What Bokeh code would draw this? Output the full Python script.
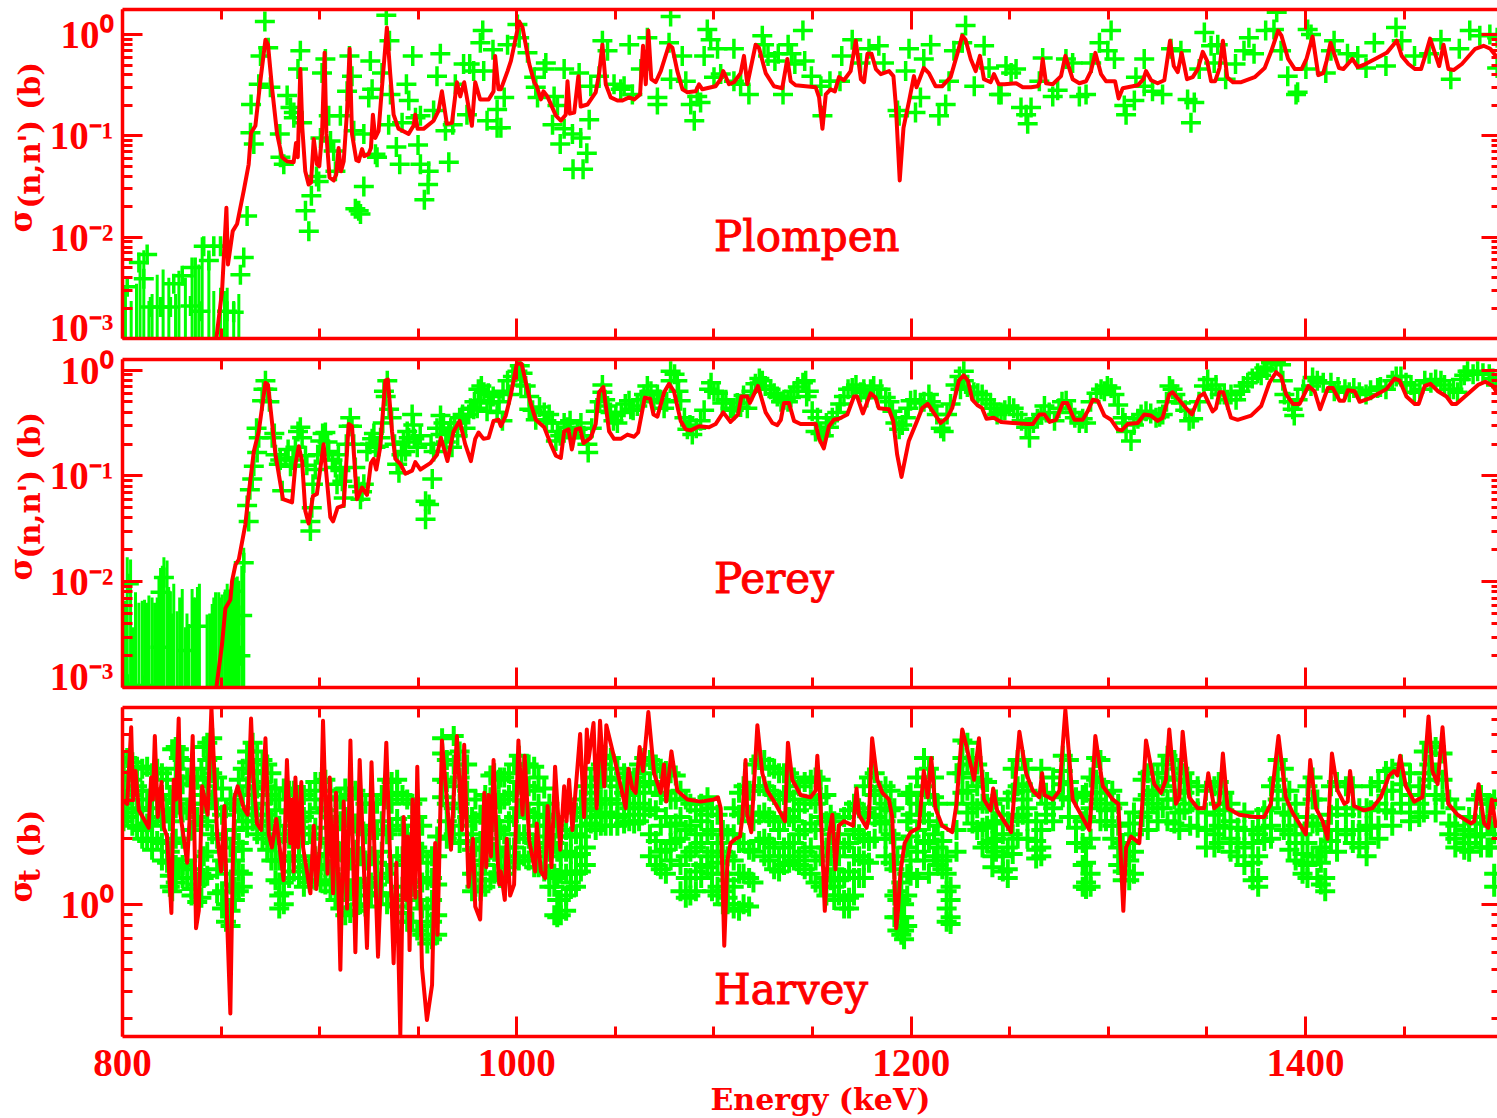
import math
from bokeh.embed import file_html
from bokeh.resources import INLINE
from bokeh.layouts import column, row
from bokeh.models import CustomLabelingPolicy, FixedTicker, Label, LogAxis, LinearAxis, LogScale, Range1d
from bokeh.plotting import figure

RED = "#ff0000"
GREEN = "#00ff00"
SERIF = "DejaVu Serif"
TICK_FONT = "Liberation Serif"

x_major = [800, 1000, 1200, 1400]
x_minor = [850, 900, 950, 1050, 1100, 1150, 1250, 1300, 1350, 1450]
panel_names = ["Plompen", "Perey", "Harvey"]

# All series are (energy keV, log10 of cross section in barn)
plompen_model = [(847.6,-3.0),(850.5,-2.53),(852.7,-1.71),(853.5,-2.27),(855.9,-1.94),(858.1,-1.87),(861.5,-1.54),(864,-1.28),(865.2,-.97),(867.4,-.90),(869.9,-.46),(872.5,-.05),(873.8,-.10),(875.8,-.52),(878.4,-.98),(880.9,-1.21),(883.4,-1.25),(886.8,-1.26),(888,-1.07),(888.9,-1.21),(890.2,-.34),(891.2,-.92),(892.7,-1.35),(894.4,-1.48),(895.6,-1.46),(897,-1.03),(898.6,-1.28),(899.8,-1.30),(901.2,-.98),(902.5,-.18),(903.4,-.98),(905,-1.41),(907.1,-1.44),(908.4,-1.38),(909.6,-1.12),(910.8,-1.35),(912.2,-1.25),(913.9,-.75),(915.2,-.14),(916.4,-.98),(918.6,-1.24),(919.8,-1.25),(921.5,-1.13),(922.6,-1.20),(924.8,-1.18),(926,-1.12),(927,-.79),(928.2,-1.02),(929.9,-.95),(931.6,-.52),(934.1,.07),(935.8,-.39),(937.5,-.79),(940,-.93),(945.1,-.98),(947.6,-.90),(948.5,-.79),(949.7,-.93),(952.7,-.93),(957.8,-.85),(960.3,-.75),(962,-.56),(964.5,-.88),(967.1,-.87),(969.6,-.47),(971.3,-.61),(973.3,-.47),(977.2,-.90),(978.9,-.47),(981.4,-.64),(985.7,-.64),(988.2,-.56),(989,-.21),(990.7,-.54),(991.9,-.54),(995.3,-.36),(997,-.26),(1001.2,.13),(1002.9,.07),(1006.3,-.29),(1008.8,-.47),(1010.1,-.51),(1012.2,-.64),(1013.5,-.56),(1015.5,-.61),(1019.8,-.80),(1022.3,-.85),(1024.8,-.79),(1025.7,-.46),(1026.9,-.78),(1029.1,-.77),(1031.2,-.41),(1032.4,-.71),(1035.8,-.69),(1040,-.57),(1041.7,-.39),(1043.4,-.10),(1045.1,-.49),(1047.6,-.62),(1051,-.65),(1053.6,-.65),(1056.9,-.62),(1059.5,-.64),(1062.5,-.59),(1064,-.11),(1065.4,-.49),(1066.7,.04),(1068.2,-.44),(1070.4,-.47),(1073,-.36),(1077.2,-.10),(1078.9,-.13),(1081.4,-.36),(1084,-.54),(1086.5,-.57),(1090.7,-.56),(1092.4,-.49),(1094.1,-.54),(1100.8,-.51),(1103.4,-.44),(1104.7,-.36),(1107.6,-.49),(1110.1,-.47),(1113.5,-.38),(1115.2,-.21),(1116.9,-.49),(1121.1,-.10),(1122.8,-.13),(1126.2,-.38),(1130.4,-.51),(1134.6,-.53),(1137.2,-.24),(1138.9,-.46),(1141.4,-.50),(1151.6,-.52),(1153.3,-.62),(1155,-.93),(1156.7,-.59),(1159.1,-.54),(1161.3,-.56),(1163.4,-.42),(1165.9,-.45),(1169.3,-.36),(1171.9,-.06),(1174.5,-.44),(1176.1,-.47),(1177.8,-.19),(1179.9,-.19),(1182.1,-.34),(1184.6,-.39),(1188.8,-.36),(1191,-.41),(1192.2,-.69),(1194.2,-1.44),(1196.1,-.92),(1199,-.65),(1201.4,-.41),(1202.7,-.52),(1206.4,-.33),(1209,-.38),(1212.4,-.51),(1215.7,-.51),(1220,-.42),(1223.4,-.19),(1225.9,-.01),(1227.6,-.05),(1230.2,-.24),(1232.7,-.36),(1234.9,-.21),(1236.9,-.44),(1240.3,-.47),(1242,-.39),(1244.4,-.49),(1247.3,-.49),(1253.2,-.48),(1256.6,-.52),(1260.8,-.52),(1264.2,-.51),(1265.5,-.46),(1266.7,-.24),(1268.4,-.48),(1271.8,-.49),(1276,-.41),(1278.2,-.21),(1281.9,-.44),(1285.3,-.48),(1288.7,-.46),(1291.2,-.36),(1293.4,-.18),(1296.3,-.39),(1298.8,-.46),(1303.4,-.46),(1305.2,-.63),(1307.3,-.53),(1314.9,-.50),(1317.8,-.44),(1319.1,-.36),(1321.7,-.45),(1325,-.48),(1328.4,-.45),(1331.3,-.06),(1333.2,-.31),(1335.2,-.37),(1337.2,-.18),(1339.9,-.44),(1342.8,-.42),(1345.4,-.34),(1347.9,-.17),(1350.1,-.26),(1352.1,-.46),(1354.2,-.46),(1356.4,-.33),(1358.1,-.06),(1360.3,-.42),(1363.2,-.47),(1367.4,-.47),(1374.2,-.42),(1379.3,-.33),(1382.7,-.16),(1386.1,.04),(1387.8,-.01),(1391.2,-.24),(1394.6,-.34),(1398,-.34),(1400.5,-.24),(1403.6,-.02),(1406.5,-.40),(1409,-.38),(1410.7,-.26),(1412.7,-.08),(1414.9,-.21),(1417,-.33),(1419.2,-.34),(1423.8,-.24),(1426.5,-.32),(1429.4,-.30),(1435.3,-.24),(1441.2,-.18),(1446.3,-.06),(1448.8,-.21),(1452.2,-.29),(1455.6,-.34),(1458.6,-.34),(1460.7,-.21),(1463.2,-.04),(1467.8,-.31),(1470,-.10),(1472.5,-.34),(1475.1,-.35),(1479.3,-.29),(1486.1,-.14),(1490.3,-.11),(1493.7,-.14),(1497.4,-.23)]

perey_model = [(847.6,-3),(850.5,-2.59),(852.2,-2.25),(854.7,-2.17),(855.6,-1.99),(857.3,-1.84),(859,-1.79),(862.3,-1.46),(864,-1.17),(866.6,-.77),(869.1,-.58),(872.5,-.12),(873.8,-.14),(877.6,-.80),(881.4,-1.22),(886,-1.25),(887.7,-.89),(889.4,-.72),(891.1,-.86),(892.7,-1.33),(894.4,-1.45),(896.6,-1.19),(898.6,-1.17),(902,-.70),(905.4,-1.39),(906.8,-1.43),(909.1,-1.30),(912.2,-1.28),(914.7,-.51),(916.4,-.53),(918.9,-1.22),(921.5,-1.11),(924,-1.18),(926,-.88),(927.4,-.84),(928.7,-.94),(930.7,-.73),(933.3,-.10),(934.6,-.09),(936.7,-.58),(938.4,-.84),(941,-.89),(943.5,-.98),(946.9,-.95),(948.5,-.87),(951.1,-.94),(956.1,-.88),(959.5,-.80),(961.5,-.64),(964.8,-.86),(967.9,-.58),(971,-.48),(973.8,-.70),(976.7,-.86),(978.9,-.65),(980.6,-.59),(983.1,-.65),(985.7,-.64),(988.2,-.48),(990.7,-.47),(991.9,-.53),(994.4,-.43),(997,-.23),(1000,.06),(1002.4,.06),(1007.1,-.32),(1009.6,-.47),(1013.9,-.54),(1017.2,-.70),(1019.8,-.81),(1022.3,-.83),(1024,-.58),(1026.2,-.56),(1027.9,-.75),(1029.9,-.56),(1032.1,-.55),(1033.8,-.69),(1037.5,-.64),(1040,-.51),(1041.7,-.21),(1043.9,-.16),(1046.8,-.58),(1049.3,-.65),(1052.7,-.65),(1056.1,-.61),(1059.5,-.63),(1061.5,-.59),(1064.9,-.26),(1067.6,-.27),(1069.3,-.42),(1071.3,-.44),(1074.7,-.21),(1077.2,-.13),(1079.7,-.20),(1083.1,-.48),(1085.6,-.56),(1088.2,-.57),(1092.4,-.53),(1097.5,-.54),(1100.8,-.51),(1104.7,-.40),(1108.4,-.49),(1112.2,-.42),(1113.9,-.25),(1116.9,-.25),(1118.2,-.31),(1122.3,-.15),(1126.2,-.40),(1129.6,-.50),(1132.1,-.52),(1133.9,-.47),(1135.5,-.31),(1138,-.31),(1140.6,-.48),(1143.9,-.51),(1151.6,-.51),(1153.3,-.65),(1155.7,-.74),(1158.3,-.53),(1160.8,-.47),(1163.4,-.46),(1167.6,-.42),(1171,-.25),(1172.6,-.25),(1175.5,-.41),(1179.4,-.22),(1181.9,-.26),(1183.6,-.36),(1188.7,-.37),(1190.9,-.48),(1192.9,-.80),(1195.1,-1.01),(1198.8,-.67),(1203,-.48),(1205.6,-.36),(1208.4,-.32),(1214.9,-.50),(1218.2,-.45),(1220.8,-.36),(1224.2,-.10),(1226.7,-.05),(1228.8,-.10),(1231,-.28),(1233.5,-.33),(1236,-.36),(1238.2,-.46),(1241.9,-.45),(1245.6,-.49),(1251.5,-.50),(1259.1,-.51),(1261.7,-.51),(1265,-.42),(1267.6,-.42),(1270.2,-.49),(1273.5,-.47),(1276.9,-.31),(1279.1,-.31),(1282.8,-.47),(1287,-.47),(1289.5,-.39),(1292.1,-.28),(1294.6,-.29),(1298,-.43),(1301.4,-.47),(1304.7,-.56),(1306.8,-.57),(1309.8,-.51),(1314.9,-.50),(1318.2,-.42),(1321.6,-.43),(1325,-.48),(1327.5,-.45),(1330.9,-.23),(1332.6,-.21),(1338.5,-.34),(1342.4,-.42),(1346.1,-.25),(1348.6,-.22),(1352.9,-.39),(1354.6,-.36),(1356.3,-.21),(1358.3,-.21),(1362.2,-.45),(1365.6,-.47),(1372.4,-.43),(1377.5,-.34),(1381.7,-.12),(1385.1,-.02),(1387.6,-.06),(1390.2,-.23),(1393.6,-.32),(1397,-.32),(1401.5,-.15),(1404.6,-.20),(1407.4,-.37),(1411.3,-.17),(1413.9,-.17),(1417.3,-.29),(1419.5,-.29),(1421.5,-.19),(1424.9,-.20),(1427.5,-.30),(1433.4,-.26),(1441,-.18),(1445.2,-.08),(1447.8,-.10),(1451.2,-.25),(1455.4,-.32),(1457.4,-.32),(1460.5,-.15),(1463.4,-.13),(1467.2,-.20),(1471.5,-.25),(1474.3,-.32),(1476.5,-.32),(1487.5,-.14),(1491.2,-.11),(1495.1,-.15),(1497.2,-.22)]

harvey_model = [(800,.476),(802.4,.46),(804.4,.81),(805.4,.476),(806.6,.61),(808.3,.43),(813.3,.35),(814.5,.58),(815.4,.48),(816.4,.77),(817.9,.40),(819.8,.56),(821,.35),(822.6,.31),(824.8,-.04),(826,.57),(827.2,.48),(828.5,.85),(829.4,.41),(832.8,.19),(834.1,.40),(835.6,.77),(837.3,-.11),(838.7,-.03),(840.4,.54),(843.2,.41),(845.1,.90),(848,.32),(850,.15),(851.7,.45),(853,-.06),(854.7,-.50),(855.9,.17),(856.8,.49),(858.4,.54),(861.5,.44),(863.5,.41),(865.2,.85),(866.4,.58),(868.2,.37),(870.3,.34),(872.5,.76),(874.2,.32),(875.8,.26),(878,.39),(881.7,.11),(883.4,.66),(885.1,.28),(886,.48),(886.8,.15),(887.7,.58),(889,.26),(890.7,.56),(891.6,.26),(895.3,.05),(897,.36),(898.3,.07),(900.3,.29),(901.7,.84),(904,.14),(905.1,.58),(906.8,.05),(908.3,.51),(910.5,-.30),(912.2,.47),(913.9,-.02),(915.6,.75),(918.1,-.22),(920.3,.66),(924,-.20),(926.3,.65),(929.6,-.24),(933.8,.74),(937.5,-.27),(938.9,.19),(940.9,-.60),(942.6,.40),(944,.02),(944.7,.31),(945.6,-.21),(947.1,.48),(948.5,.03),(949.5,.63),(951.9,-.29),(954.4,-.53),(957,-.37),(958.6,.28),(959.8,-.14),(962,.75),(966.6,.25),(969.6,.77),(972.2,.34),(973.3,.73),(975.5,.08),(977.7,.30),(978.9,-.01),(981.4,-.07),(983.5,.51),(984.5,.17),(985.7,.50),(986.9,.22),(988.2,.66),(989.9,.26),(991.1,.09),(991.9,.15),(993.9,.02),(994.9,.30),(996.6,.04),(998.6,.09),(1000.8,.75),(1002.9,.41),(1004,.68),(1006.3,.29),(1009.3,.15),(1010.1,.37),(1012.2,.15),(1014.4,.12),(1015.6,.45),(1017.6,.17),(1019.4,.63),(1022,.25),(1024,.54),(1025.2,.38),(1026.5,.57),(1028.2,.34),(1032.1,.78),(1034.1,.40),(1035.5,.80),(1036.2,.65),(1038.9,.83),(1040.5,.44),(1042.2,.84),(1044.3,.54),(1045.4,.82),(1050.2,.64),(1055.2,.44),(1056.6,.62),(1058.6,.53),(1060.3,.51),(1062.3,.72),(1064,.61),(1066.7,.88),(1069.6,.60),(1072.9,.51),(1074.6,.64),(1075.8,.47),(1078.4,.70),(1081.4,.52),(1086.5,.48),(1093.2,.47),(1100,.48),(1102,.49),(1103.4,.44),(1105.2,-.19),(1106.8,.20),(1108.4,.28),(1111,.30),(1113.2,.31),(1114.4,.40),(1116,.66),(1116.9,.41),(1118.9,.33),(1122,.82),(1124.5,.60),(1127,.52),(1131.2,.46),(1136,.38),(1137.5,.74),(1139.7,.57),(1143.9,.50),(1149,.49),(1151.5,.52),(1152.4,.68),(1154,.46),(1156.2,-.03),(1158.3,.32),(1160,.41),(1161.6,.16),(1163.3,.36),(1165.9,.38),(1170.6,.36),(1172.3,.53),(1173.5,.41),(1177.4,.35),(1178.6,.40),(1180.2,.76),(1182.8,.57),(1185.4,.51),(1188.7,.48),(1190.4,.40),(1192.4,-.11),(1193.3,-.03),(1194.6,.15),(1196.7,.28),(1199.7,.33),(1203.9,.35),(1206.4,.61),(1208.4,.49),(1210.2,.67),(1212.3,.44),(1215.7,.36),(1220.8,.33),(1223,.46),(1225.9,.80),(1227.6,.74),(1231.9,.57),(1234.4,.76),(1236.9,.48),(1240.3,.43),(1241.6,.53),(1243.6,.43),(1250.7,.33),(1252.7,.55),(1254.9,.79),(1258.3,.60),(1261.7,.52),(1265,.49),(1266.4,.60),(1267.6,.50),(1271.8,.48),(1275.2,.52),(1278.2,.89),(1281.9,.48),(1290.4,.34),(1291.8,.52),(1293.4,.77),(1297.2,.54),(1302.2,.48),(1305.1,.46),(1306.4,.20),(1307.6,-.03),(1309,.26),(1311.5,.31),(1315.7,.28),(1317.4,.48),(1319.1,.75),(1323.3,.55),(1326.7,.51),(1329.2,.57),(1330.9,.80),(1334.3,.46),(1336,.49),(1337.7,.79),(1341,.49),(1345.3,.44),(1348.6,.44),(1350.7,.60),(1353.7,.44),(1356.3,.46),(1358.1,.69),(1360.5,.44),(1366.4,.41),(1374,.40),(1379.1,.40),(1382.4,.46),(1386.3,.77),(1390,.49),(1393.4,.42),(1400.2,.32),(1402.4,.66),(1405.3,.44),(1408.7,.38),(1411.2,.30),(1413.4,.69),(1416.3,.52),(1419.7,.46),(1421.4,.47),(1422.6,.61),(1424.6,.45),(1429.7,.43),(1433.9,.44),(1438.2,.49),(1442.4,.59),(1444.9,.61),(1446.6,.59),(1448,.68),(1450.9,.54),(1455.1,.47),(1459.3,.49),(1462.4,.86),(1464.4,.61),(1467,.55),(1469.5,.81),(1472.4,.46),(1477.1,.41),(1483.9,.37),(1485.6,.38),(1487.8,.55),(1490.6,.37),(1492.7,.35),(1494.5,.48),(1496.6,.35)]

plompen_data = [(872.2,.13),(873.9,-.13),(870,-.21),(890.2,-.16),(889,-.34),(901.2,-.38),(902.9,-.24),(915.1,-.21),(916.4,-.41),(913.9,-.56),(925.7,-.26),(931.6,-.38),(926.6,-.54),(924.9,-.62),(933.8,.19),(935.4,-.06),(935.9,-.59),(944,-.49),(947.2,-.21),(945.2,-.65),(948.6,-.82),(961.2,-.19),(959.5,-.41),(982.7,.04),(981.5,-.08),(987.9,-.15),(973,-.29),(976.1,-.29),(978.1,-.36),(983.2,-.36),(968.8,-.49),(957.8,-.75),(951.1,-.80),(941.8,-.87),(935,-.89),(922.4,-.98),(917.3,-.95),(910.5,-.80),(904.6,-.80),(907.1,-1.15),(905.5,-1.05),(900.4,-1.02),(891.1,-.87),(886.9,-.82),(885.2,-.72),(883.5,-.60),(886.9,-.77),(875,-.52),(869.1,-.49),(865.2,-.69),(864.9,-.97),(866.6,-1.08),(879.8,-.98),(880.1,-1.21),(881.8,-1.28),(898.4,-1.40),(899.5,-1.45),(895.8,-1.59),(892.8,-1.74),(894.5,-1.94),(908,-1.35),(922.4,-1.50),(919.8,-1.74),(920.7,-1.77),(918.1,-1.72),(928.3,-1.18),(929.1,-1.21),(938.9,-1.11),(940.6,-1.28),(949.9,-1.09),(951.1,-1.28),(955.3,-1.35),(955,-1.48),(953.1,-1.63),(965.5,-1.26),(963.8,-.95),(967.5,-.89),(974.7,-.79),(984.9,-.85),(990,-.74),(990,-.92),
(802.4,-2.49),(812.5,-2.17),(808.3,-2.25),(810.8,-2.41),(819.3,-2.69),(814.2,-2.69),(826,-2.46),(830.3,-2.38),(835.3,-2.30),(841.2,-2.09),(846.3,-2.09),(843.8,-2.23),(849.7,-2.09),(861.5,-2.20),(859.8,-2.37),(863.2,-1.79),(824.3,-2.69),(834.5,-2.68),(839.5,-2.73),(853,-2.73),(856.4,-2.74),
(1000.3,.10),(995.3,-.10),(1001.2,-.03),(1005.4,-.18),(1014.7,-.28),(1013.9,-.34),(1008.8,-.42),(1009.6,-.52),(1010.5,-.62),(1024,-.34),(1031.6,-.38),(1018.9,-.61),(1020.6,-.70),(1018.1,-.89),(1024,-.93),(1028.2,-.98),(1032.4,-1.02),(1022,-1.08),(1035.5,-1.17),(1028.5,-1.33),(1033.6,-1.33),(1036.7,-.84),(1043.4,-.06),(1046,-.16),(1041.7,-.41),(1037.5,-.51),(1049.3,-.49),(1052.7,-.54),(1057,-.10),(1054.4,-.51),(1058.6,-.59),(1062.9,-.34),(1066.2,-.03),(1078,.18),(1077.2,-.08),(1071.3,-.62),(1071.3,-.69),(1078,-.44),(1083.9,-.21),(1085.7,-.46),(1090,-.85),(1088.2,-.69),(1093.2,-.67),(1091.5,-.61),(1096.6,.05),(1098.3,-.05),(1095,-.21),(1101.8,-.14),(1100,-.42),(1110.1,-.14),(1103.4,-.39),(1110.1,-.46),(1113.5,-.49),(1117.7,-.59),(1124.5,-.01),(1125.4,-.10),(1127.4,-.21),(1132.6,-.19),(1137.6,-.10),(1145.1,.04),(1139.3,-.19),(1141,-.29),(1146,-.26),(1149.4,-.41),(1135,-.59),(1130.9,-.26),(1155,-.80),(1154.2,-.51),(1158.8,-.46),(1163.9,-.46),(1164.8,-.21),(1170.1,-.05),(1178.6,-.14),(1183.6,-.11),(1186.2,-.28),(1174.3,-.28),(1193.9,-.80),(1198.9,-.14),(1197.2,-.36),(1209.9,-.10),(1206.4,-.24),(1204.7,-.62),(1202.2,-.77),(1193.1,-.75),(1217.5,-.69),(1214.1,-.80),(1219.2,-.46),(1227.6,.09),(1225.9,-.08),(1221.7,-.16),(1237,-.11),(1232,-.51),(1239.5,-.33),(1244.5,-.59),(991.9,-.92),(993.6,-.62),
(1248.1,-.31),(1250.7,-.38),(1253.2,-.34),(1245.6,-.59),(1255.7,-.72),(1258.3,-.79),(1259.1,-.88),(1260.8,-.72),(1266.7,-.23),(1265,-.46),(1271.8,-.61),(1274.3,-.55),(1278.5,-.24),(1281.9,-.28),(1285.3,-.61),(1288.7,-.59),(1295.5,-.08),(1301.4,.04),(1299.7,-.16),(1303.1,-.24),(1291.3,-.28),(1314,-.42),(1318.2,-.24),(1309,-.79),(1308.1,-.70),(1313.2,-.65),(1318.2,-.51),(1322.4,-.56),(1327.5,-.59),(1331.8,-.14),(1336.8,-.16),(1340.2,-.64),(1343.6,-.67),(1341.9,-.87),(1348.7,.02),(1352.1,-.11),(1355.5,-.10),(1353.7,-.28),(1346.1,-.34),(1359.5,-.44),(1364.5,-.29),(1371.3,-.03),(1368.8,-.16),(1373.9,-.19),(1379.8,.04),(1384,.05),(1385.4,.22),(1387.6,-.16),(1391,-.41),(1396,-.57),(1395.2,-.59),(1401.1,.05),(1402.8,0),(1400.2,-.34),(1410.3,-.38),(1414.5,-.06),(1412.9,-.16),(1421.3,-.19),(1426.5,-.21),(1430.7,-.33),(1434.9,-.08),(1440.8,-.31),(1445.9,.07),(1448.8,-.06),(1455.3,-.21),(1462.7,-.19),(1468.7,-.05),(1478,-.14),(1473.7,-.44),(1483.3,.04),(1488.4,-.01),(1493.5,0),(1497.2,-.03),(1497.2,-.33)]

plompen_low_E = [801.5,804.4,807.1,808.9,810.8,813.4,815,817.6,820.6,823.5,826.9,828.6,831.9,835.3,837,838.7,840.4,843.8,846.3,849.7,851.7,853.1,856.4,859]
plompen_low_top = [-2.50,-2.63,-2.46,-2.23,-2.13,-2.63,-2.56,-2.37,-2.32,-2.40,-2.56,-2.33,-2.40,-2.37,-2.20,-2.27,-2.0,-2.17,-2.53,-2.50,-2.53,-2.50,-2.63,-2.56]

perey_data = [(864,-1.43),(863.2,-1.28),(864.6,-1.13),(865.8,-1.03),(866.6,-.91),(868.3,-.78),(869.1,-.64),(870.8,-.29),(872.5,-.10),(873.4,-.18),(875.9,-.64),(877.6,-.80),(879.3,-.89),(881,-1.14),(882.7,-.83),(885.2,-.91),(887.7,-.73),(890.2,-.54),(891.1,-.64),(892.8,-.81),(895.3,-1.43),(895.3,-1.52),(896.6,-1.08),(897.8,-.94),(900.3,-.67),(902.9,-.59),(904.6,-.77),(908,-.92),(908.8,-1.08),(910.5,-.95),(912.2,-1.21),(914.7,-.53),(916.4,-.53),(918.1,-.92),(920.7,-1.22),(922.4,-1.08),(924,-.77),(926.6,-.65),(928.3,-.73),(930.9,-.64),(934.3,-.10),(932.6,-.20),(935.2,-.37),(939.3,-.89),(940.2,-.97),(943.5,-.77),(945.2,-.64),(946.9,-.42),(944.4,-.58),(949.5,-.73),(953.7,-1.24),(955.5,-1.27),(953.7,-1.41),(957.1,-1.03),(961.3,-.43),(961.3,-.61),(957.8,-.77),(971,-.45),(975.6,-.42),(979.9,-.36),(983.3,-.21),(986.6,-.31),(990,-.40),(967.1,-.73),(965.5,-.58),(981.5,-.29),(978.1,-.37),(984.9,-.39),
(803.2,-2.02),(821,-1.96),(819.3,-2.10),(861.5,-1.82),(856.4,-2.09),(860.7,-2.32),(859.8,-2.70),(819.3,-2.62),(832.8,-2.65),(837.9,-2.42),(802.4,-2.97),(810.8,-2.98),
(992.7,-.48),(996.1,-.23),(995.3,-.10),(1000.3,-.01),(1002.9,-.03),(1002,-.14),(1006.3,-.25),(1006.3,-.37),(1009.6,-.47),(1013.9,-.40),(1016.4,-.42),(1020.6,-.58),(1019.8,-.67),(1025.7,-.54),(1030.8,-.56),(1028.2,-.64),(1035.8,-.70),(1036.2,-.78),(1040,-.39),(1043.4,-.21),(1043.4,-.14),(1046,-.34),(1050.2,-.43),(1051,-.50),(1056.9,-.29),(1057.8,-.37),(1061.1,-.34),(1066.2,-.15),(1064.5,-.23),(1071.3,-.23),(1074.7,-.36),(1078,-.01),(1078,-.10),(1081.4,-.10),(1083.1,-.29),(1086.5,-.56),(1089,-.61),(1093.2,-.48),(1097.5,-.18),(1100,-.20),(1104.2,-.31),(1108.4,-.36),(1111.8,-.31),(1116.9,-.36),(1124.5,-.10),(1128.7,-.18),(1132.1,-.25),(1135.5,-.28),(1140.6,-.20),(1145.1,-.12),(1148.1,-.20),(1149.8,-.39),(1151.5,-.58),(1155.7,-.62),(1158.3,-.54),(1162.5,-.40),(1165.9,-.25),(1170.1,-.17),(1174.3,-.21),(1179.4,-.18),(1184.5,-.18),(1187.1,-.26),(1190.5,-.39),(1193.9,-.56),(1197.3,-.45),(1199.7,-.29),(1204.7,-.31),(1209,-.23),(1211.5,-.34),(1216.5,-.58),(1218.2,-.42),(1222.5,-.14),(1226.7,-.01),(1226.7,-.10),(1231.8,-.21),(1236,-.23),(1240.2,-.32),(1243.6,-.42),
(1245.6,-.40),(1249.8,-.34),(1254,-.42),(1258.3,-.54),(1260,-.64),(1265.9,-.42),(1267.6,-.34),(1272.7,-.48),(1278.6,-.29),(1281.1,-.40),(1285.3,-.50),(1288.7,-.50),(1296.3,-.18),(1301.4,-.17),(1303.1,-.23),(1307.3,-.45),(1309,-.58),(1311.5,-.67),(1316.6,-.42),(1319.1,-.39),(1324.2,-.45),(1327.6,-.42),(1332.6,-.18),(1336.8,-.31),(1341,-.48),(1350.4,-.09),(1354.6,-.14),(1358.8,-.23),(1362.2,-.23),(1364.8,-.28),(1370.7,-.12),(1375.7,-.03),(1379.1,.02),(1382.5,.07),(1387.6,.05),(1389.3,-.23),(1393.5,-.37),(1394.3,-.43),(1403.6,-.07),(1402.8,-.15),(1412.9,-.12),(1414.6,-.20),(1422.2,-.21),(1427.3,-.21),(1430.7,-.23),(1436.6,-.17),(1440.8,-.18),(1448.4,-.06),(1453.5,-.14),(1455.2,-.21),(1463.6,-.12),(1468.7,-.10),(1472.9,-.18),(1477.1,-.21),(1482.2,-.01),(1487.3,-.01),(1493.2,-.04),(1496.6,-.14),(1478.8,-.09),
(868,-.55),(871.5,-.18),(874.5,-.30),(877,-.60),(880,-.85),(884,-.75),(886.5,-.85),(889,-.58),(893.5,-.90),(896,-1.30),(899,-.80),(901.5,-.60),(904,-.68),(906.5,-.85),(909.5,-.80),(911.5,-1.05),(913.5,-.70),(915.5,-.45),(917.3,-.70),(919.5,-1.10),(921.5,-1.15),(925.5,-.70),(927.5,-.60),(930,-.72),(932,-.50),(933.5,-.25),(936.5,-.45),(938,-.70),(941.5,-.80),(942.5,-.68),(947.5,-.52),(948,-.65),(951,-.62),(956.5,-.70),(959.5,-.55),(962.8,-.50),(964,-.68),(966.5,-.55),(968.5,-.50),(970,-.62),(972.5,-.42),(974,-.55),(976.5,-.36),(978.5,-.30),(980.5,-.18),(982,-.15),(985.5,-.22),(988,-.25),(991,-.30),(993,-.20),(998,-.06),(1001.5,.04),(1004.5,-.15),(1008,-.38),(1011.5,-.35),(1015,-.48),(1018,-.50),(1022,-.62),(1024,-.50),(1027,-.48),(1032.5,-.50),(1034,-.62),(1038,-.55),(1042,-.30),(1044.8,-.28),(1047.5,-.40),(1049,-.48),(1053,-.40),(1055,-.32),(1059,-.38),(1063,-.28),(1068,-.20),(1069.5,-.30),(1073,-.28),(1076,-.30),(1080,-.04),(1082,-.20),(1085,-.45),(1087.8,-.52),(1091,-.55),(1095,-.38),(1098.5,-.12),(1102,-.22),(1106,-.28),(1110,-.38),(1113.5,-.35),(1115,-.24),(1119,-.20),(1121,-.13),(1123,-.08),(1126,-.15),(1130.5,-.22),(1134,-.30),(1137.5,-.30),(1139,-.26),(1142.5,-.16),(1146.5,-.10),(1147,-.25),(1152.5,-.45),(1154,-.60),(1157,-.50),(1160,-.45),(1164,-.32),(1168,-.18),(1172,-.14),(1176,-.18),(1177.5,-.26),(1181,-.15),(1183,-.26),(1189,-.30),(1192,-.50),(1195.5,-.52),(1198.5,-.36),(1202,-.28),(1206.5,-.30),(1210,-.30),(1213,-.42),(1215,-.55),(1220,-.32),(1224.5,-.06),(1225,-.18),(1228.5,-.16),(1233.8,-.22),(1238,-.28),(1242,-.36),
(1247.5,-.38),(1252,-.36),(1256,-.48),(1262,-.50),(1264,-.46),(1270,-.40),(1275,-.36),(1276.5,-.30),(1283,-.45),(1287,-.46),(1291,-.30),(1294,-.22),(1298,-.20),(1299.5,-.15),(1305,-.33),(1308.5,-.50),(1313,-.52),(1315,-.46),(1321.5,-.41),(1326,-.44),(1329.5,-.30),(1331,-.15),(1334,-.23),(1339,-.38),(1343,-.46),(1346,-.30),(1348.5,-.15),(1352.5,-.18),(1356.5,-.23),(1360.5,-.28),(1367,-.20),(1368.5,-.15),(1373,-.08),(1377.5,-.05),(1380.5,.0),(1385,.07),(1388.5,-.10),(1391.5,-.30),(1396,-.28),(1399,-.18),(1406,-.10),(1409,-.12),(1416.5,-.16),(1420,-.18),(1424.5,-.17),(1433,-.19),(1438,-.16),(1444,-.10),(1446,-.06),(1451,-.12),(1458,-.18),(1460.5,-.10),(1466,-.09),(1470.5,-.14),(1475,-.18),(1480.5,-.05),(1485,-.04),(1490,-.03),(1495,-.08)]

perey_low_E = [801,802.4,804.1,805.4,806.6,808.3,810,811.2,812.4,813.4,815,816.3,817.6,818.5,819.3,820.2,821,822.6,823.4,824.3,825.1,826,827.7,829,830.3,831.9,832.7,833.6,835.3,836,837,838,839,842.9,844.2,845.5,846.3,847.2,848.8,849.6,850.5,851.8,853.1,854,854.8,856,857.3,858.2,859,860.5,861.5]
perey_low_top = [-2.18,-1.77,-1.79,-2.43,-2.10,-2.2,-2.18,-2.17,-2.2,-2.13,-2.15,-2.2,-2.15,-1.95,-1.87,-1.85,-1.77,-1.80,-2.05,-2.09,-2.3,-2.02,-2.28,-2.15,-2.07,-2.43,-2.3,-2.40,-2.07,-2.15,-2.15,-2.05,-2.02,-2.31,-2.3,-2.21,-2.15,-2.10,-2.10,-2.15,-2.12,-2.1,-2.02,-2.1,-2.15,-2.0,-1.96,-1.95,-1.99,-1.85,-1.68]

harvey_data = [
(802.4,[.67,.57,.48,.40]),(807.4,[.63,.54,.44,.35]),(812.5,[.63,.48,.37,.29]),(817.6,[.62,.49,.40,.29]),(822.6,[.57,.43,.28,.19]),(825.2,[.71,.48,.28,.06]),(828.6,[.71,.67,.48,.17]),(832.8,[.58,.43,.20,.12]),(837.9,[.57,.40,.09,.01]),(841.2,[.72,.58,.46,.22,.12]),(845.5,[.76,.67,.60,.48,.32]),(850.5,[.53,.41,.20,.06,-.02]),(854.8,[.48,.26,.09,-.03,-.10]),(859,[.57,.43,.28,.15,.06]),(863.2,[.70,.65,.54,.41,.35]),(868.3,[.70,.61,.53,.41,.32]),(873.4,[.64,.54,.41,.32,.25]),(877.6,[.53,.43,.29,.20,.11]),(881.8,[.53,.32,.10,.05,0]),(886.9,[.52,.40,.29,.22,.15]),(892,[.50,.40,.32,.17,.08]),(897.8,[.56,.48,.35,.22,.11]),(902.9,[.57,.43,.23,.17,.09]),(908,[.49,.35,.25,.11,.02]),(913,[.53,.40,.22,.06,-.05]),(918.1,[.52,.37,.25,.11,-.03]),(923.2,[.46,.32,.20,.08,-.01]),(929.1,[.46,.34,.19,.09,.05]),(934.2,[.57,.48,.32,.14,.00]),(939.3,[.57,.51,.39,.22,-.01]),(944.4,[.48,.32,.20,.02,-.08]),(949.5,[.48,.40,.26,.02,-.12]),(954.6,[.19,.11,-.01,-.10,-.18]),(959.6,[.31,.22,.09,-.05,-.14]),(962.1,[.76,.69,.57,.49]),(968,[.77,.64,.54,.44,.32]),(974.8,[.64,.52,.40,.29]),(977.3,[.40,.32,.25,.14,.06]),(981.5,[.41,.29,.20,.11,.06]),(986.6,[.59,.49,.40,.25,.11]),(990.8,[.57,.48,.35,.25,.14]),
(993.6,[.58,.48,.32,.22,.14]),(998.6,[.64,.51,.40,.26,.19]),(1003.7,[.64,.54,.43,.32,.22]),(1008.8,[.63,.52,.40,.28,.17]),(1013.9,[.53,.41,.31,.22,.15]),(1019,[.40,.28,.14,.08,-.05]),(1022.3,[.31,.22,.14,.02,-.05]),(1027.4,[.31,.23,.15,.10,.07]),(1032.5,[.48,.40,.31,.23,.15]),(1037.5,[.58,.51,.43,.37]),(1042.6,[.64,.57,.48,.41,.36]),(1047.7,[.67,.57,.48,.41,.36]),(1054.4,[.60,.51,.41,.37]),(1059.5,[.58,.51,.44,.37]),(1064.6,[.67,.60,.51,.41]),(1070.5,[.64,.55,.43,.29,.18]),(1075.6,[.61,.51,.40,.25,.14]),(1080.6,[.59,.48,.37,.29]),(1085.7,[.48,.34,.22,.12,.03]),(1090.8,[.43,.32,.26,.15,.06]),(1096.7,[.49,.41,.32,.22,.17]),(1101.8,[.41,.28,.19,.08,.04]),(1106.9,[.32,.22,.11,.03,0]),(1112.7,[.51,.41,.28,.14,-.03]),(1117.8,[.52,.41,.25,.12,-.01]),(1122.9,[.66,.54,.41,.29]),(1128,[.63,.52,.40,.28,.20]),(1133,[.60,.48,.34,.22,.15]),(1138.1,[.60,.51,.40,.28,.19]),(1143.1,[.54,.43,.32,.22,.18]),(1149.1,[.57,.48,.37,.26,.14]),(1154.1,[.57,.49,.40,.22,.08]),(1159.2,[.41,.32,.22,.11]),(1163.4,[.32,.22,.11,.04]),(1168.5,[.43,.28,.15,.03,-.02]),(1173.6,[.44,.32,.22,.12]),(1178.6,[.58,.41,.29,.19]),(1184.5,[.52,.44,.37]),(1189.6,[.52,.43,.32,.19]),(1193,[.22,.06,.02,-.06,-.12]),(1196.4,[.00,-.06,-.12,-.16]),(1199.7,[.51,.41,.31,.20,.13]),(1206.5,[.67,.54,.41,.29,.20]),(1211.6,[.58,.49,.32,.22]),(1215.8,[.29,.20,.16]),(1220,[.08,.02,-.06,-.09]),(1226,[.75,.67,.60,.51]),(1231.1,[.67,.58,.46,.37]),(1236.2,[.57,.46,.35,.26]),(1241.2,[.46,.37,.29,.22,.17]),
(1246.5,[.41,.32,.22,.15]),(1251.5,[.62,.51,.32,.23]),(1256.6,[.66,.55,.48,.41]),(1263.4,[.38,.29,.25,.21]),(1268.4,[.51,.46,.41]),(1276.9,[.68,.61,.55,.49]),(1283.6,[.49,.35,.28]),(1288.7,[.51,.40,.26,.19,.10,.07]),(1293.8,[.67,.57,.48]),(1298.8,[.51,.43,.38]),(1307.3,[.28,.22,.15,.11]),(1310.6,[.37,.28,.20,.11]),(1317.4,[.57,.48,.40]),(1322.5,[.60,.52,.46]),(1327.6,[.64,.54,.44]),(1333.5,[.66,.57,.48,.37]),(1338.6,[.60,.51,.43]),(1345.3,[.54,.44,.35]),(1353.8,[.54,.41,.32,.26]),(1358.8,[.51,.43,.35]),(1365.6,[.35,.28,.22]),(1373.2,[.34,.28,.19,.11]),(1379.1,[.43,.35,.29]),(1385.9,[.66,.57,.48]),(1391.8,[.52,.41,.32,.25]),(1398.5,[.32,.23,.19,.14]),(1403.6,[.58,.48,.37,.22]),(1407.8,[.26,.19,.09]),(1412.9,[.54,.41,.29]),(1420.5,[.54,.41,.32]),(1427.3,[.44,.34,.26]),(1433.2,[.54,.43,.35]),(1440.8,[.61,.52,.43]),(1448.4,[.64,.55,.46]),(1457.7,[.54,.46,.40]),(1462.8,[.74,.64,.57]),(1469.5,[.69,.57,.48]),(1472.9,[.48,.37,.32]),(1480.5,[.34,.28,.25]),(1486.4,[.48,.37,.31]),(1492.3,[.46,.37,.26]),(1495.7,[.48,.32,.14,.08]),
(800.5,[.66,.58,.52,.46,.42,.38]),(805,[.65,.57,.50,.42,.36]),(810,[.62,.52,.43,.34,.30]),(815,[.60,.52,.44,.36,.30,.25]),(820,[.60,.50,.38,.28,.20]),(824,[.50,.38,.24,.13,.08]),(827,[.72,.62,.44,.30,.18,.10]),(830.5,[.66,.55,.42,.30,.18,.12]),(835,[.58,.46,.34,.16,.07,.04]),(840,[.62,.50,.36,.14,.03]),(843,[.74,.66,.54,.38,.24,.13]),(848,[.58,.44,.30,.16,.05]),(852.5,[.44,.30,.14,.00,-.08]),(857,[.46,.34,.20,.08,.02]),(861,[.62,.50,.38,.25,.14,.08]),(866,[.74,.60,.50,.44,.38]),(871,[.66,.56,.46,.36,.30]),(875.5,[.60,.50,.38,.28,.20]),(879.5,[.48,.36,.20,.10,.04,-.02]),(884.5,[.52,.42,.30,.20,.12]),(889.5,[.50,.38,.28,.20,.12]),(895,[.52,.42,.32,.18,.10]),(900.5,[.56,.44,.30,.18,.10]),(905.5,[.52,.40,.28,.16,.06]),(910.5,[.48,.38,.24,.10,-.02]),(915.5,[.50,.36,.20,.06,-.04]),(920.5,[.50,.36,.22,.08,.00]),(926,[.46,.34,.22,.10,.04]),(931.5,[.50,.38,.24,.12,.05]),(936.5,[.56,.46,.34,.18,.04]),(942,[.50,.36,.22,.08,-.04]),(947,[.46,.36,.24,.08,-.08]),(952,[.36,.24,.10,-.02,-.14]),(957,[.22,.12,.02,-.08,-.16]),(964.5,[.66,.56,.46,.38,.30]),(971,[.70,.58,.46,.36,.28]),(979,[.48,.38,.26,.14,.08]),(984,[.50,.40,.30,.18,.08]),(988.5,[.60,.50,.38,.24,.14]),
(991.5,[.58,.46,.34,.22,.12]),(996,[.60,.50,.38,.26,.17]),(1001,[.68,.56,.44,.32,.20]),(1006,[.64,.54,.42,.30,.20]),(1011,[.58,.46,.36,.26,.17]),(1016.5,[.46,.36,.24,.14,.08]),(1020.5,[.36,.24,.12,.02,-.06]),(1025,[.34,.24,.14,.04,-.03]),(1030,[.42,.32,.22,.14,.08]),(1035,[.54,.44,.36,.26,.18]),(1040,[.62,.54,.46,.40,.34]),(1045,[.68,.58,.48,.42,.36]),(1051,[.62,.54,.46,.40,.36]),(1057,[.58,.50,.44,.38]),(1062,[.64,.54,.46,.38]),(1067.5,[.66,.56,.44,.32,.22]),(1073,[.62,.50,.36,.24,.16]),(1078,[.60,.48,.36,.28,.20]),(1083,[.52,.40,.30,.18,.06]),(1088,[.46,.36,.24,.12,.04]),(1093.5,[.46,.38,.28,.18,.12]),(1099,[.44,.34,.24,.14,.06]),(1104.5,[.34,.24,.14,.06,.00]),(1110,[.44,.32,.20,.08,-.02]),(1115,[.54,.42,.28,.14,.00]),(1120,[.64,.52,.38,.24,.10]),(1125.5,[.66,.54,.42,.30,.22]),(1130.5,[.62,.50,.38,.26,.16]),(1135.5,[.60,.50,.38,.26,.18]),(1140.5,[.58,.48,.38,.28,.20]),(1146,[.56,.46,.34,.24,.16]),(1151.5,[.58,.46,.34,.20,.10]),(1157,[.50,.38,.26,.12,.04]),(1161,[.38,.28,.16,.08,.02]),(1166,[.40,.26,.12,.02,-.02]),(1171,[.46,.34,.22,.12,.04]),(1176,[.54,.42,.30,.20,.12]),(1181.5,[.60,.50,.40,.30]),(1187,[.54,.46,.38,.30,.22]),(1191.5,[.44,.30,.16,.04,-.06]),(1195,[.10,.02,-.06,-.14]),(1198,[.50,.38,.26,.14,.04,-.10]),(1203,[.58,.46,.34,.24,.12]),(1209,[.62,.50,.38,.28,.14]),(1213.5,[.46,.36,.26,.18]),(1218,[.22,.14,.06,-.02,-.08]),(1223,[.60,.46,.34,.24]),(1228.5,[.74,.64,.52,.42]),(1233.5,[.64,.54,.44,.34]),(1238.5,[.56,.46,.36,.28]),(1243,[.48,.38,.30,.24]),
(1249,[.48,.38,.26,.16,.12]),(1254,[.66,.54,.40,.30]),(1259,[.62,.52,.44,.38,.30]),(1266,[.62,.50,.34,.26,.22]),(1272,[.58,.50,.44,.38]),(1280,[.66,.56,.48,.40]),(1287,[.50,.38,.28,.18,.08]),(1291,[.58,.44,.30,.14,.08]),(1296,[.66,.56,.46,.38]),(1302,[.52,.44,.36,.30]),(1305,[.46,.36,.26,.18]),(1313,[.42,.32,.24,.14]),(1320,[.60,.50,.42,.34]),(1325,[.60,.52,.44,.38]),(1330,[.68,.58,.48,.38]),(1336,[.62,.52,.42,.34]),(1341.5,[.56,.46,.36]),(1349.5,[.52,.42,.34,.26]),(1356,[.56,.46,.36,.28]),(1362,[.46,.38,.30,.24]),(1369,[.42,.34,.26,.18]),(1376,[.40,.32,.22,.12,.08]),(1382.5,[.54,.44,.36,.30]),(1389,[.62,.52,.42,.34]),(1395,[.46,.36,.28,.20]),(1401,[.54,.40,.28,.18,.12]),(1406,[.48,.36,.22,.12]),(1410,[.34,.24,.12,.06]),(1416,[.56,.44,.34,.24]),(1424,[.54,.44,.34,.28]),(1431,[.44,.36,.28,.22]),(1437,[.56,.46,.36,.30]),(1444,[.62,.52,.42,.36]),(1453,[.60,.50,.42,.38]),(1460,[.70,.60,.50,.42]),(1466,[.72,.60,.50,.42]),(1476,[.44,.36,.30,.26]),(1483,[.40,.32,.28,.24]),(1489,[.50,.40,.32,.26]),(1494,[.46,.36,.26]),
]

y_labels = {1: "10\u2070", 0.1: "10\u207b\u00b9", 0.01: "10\u207b\u00b2", 0.001: "10\u207b\u00b3"}
decade_major = [1, 0.1, 0.01, 0.001]
decade_minor = [m * d for d in (0.001, 0.01, 0.1, 1) for m in (2, 3, 4, 5, 6, 7, 8, 9)]
harvey_minor = [0.3, 0.4, 0.5, 0.6, 0.7, 0.8, 0.9, 2, 3, 4, 5, 6, 7]

STRIP_W = 46


def unzip(rows):
    e = [r[0] for r in rows]
    s = [10.0 ** r[1] for r in rows]
    return e, s


def style_panel(p, labels, y_major, y_minor):
    p.grid.visible = False
    p.outline_line_color = None
    xt = FixedTicker(ticks=x_major, minor_ticks=x_minor)
    yt = FixedTicker(ticks=y_major, minor_ticks=y_minor)
    common = dict(axis_line_color=RED, axis_line_width=3.5, major_tick_line_color=RED,
                  major_tick_line_width=3, minor_tick_line_color=RED, minor_tick_line_width=3,
                  major_tick_out=0, minor_tick_out=0, major_label_text_color=RED,
                  major_tick_in=20, minor_tick_in=10)
    hide = dict(major_label_text_font_size="1px", major_label_standoff=0,
                major_label_policy=CustomLabelingPolicy(code="return false"))
    below = LinearAxis(ticker=xt, **common)
    if labels:
        below.major_label_text_font = TICK_FONT
        below.major_label_text_font_style = "bold"
        below.major_label_text_font_size = "39px"
        below.major_label_standoff = 13
        below.axis_label = "\u00a0\u00a0Energy (keV)"
        below.axis_label_text_color = RED
        below.axis_label_text_font = SERIF
        below.axis_label_text_font_style = "bold"
        below.axis_label_text_font_size = "30px"
        below.axis_label_standoff = 3
    else:
        below.major_label_text_font_size = "1px"
        below.major_label_standoff = 0
        below.major_label_policy = CustomLabelingPolicy(code="return false")
    above = LinearAxis(ticker=xt, **common, **hide)
    left = LogAxis(ticker=yt, **common)
    left.major_label_text_font = TICK_FONT
    left.major_label_text_font_style = "bold"
    left.major_label_text_font_size = "39px"
    left.major_label_standoff = 9
    left.major_label_overrides = y_labels
    right_common = dict(common)
    right_common.update(axis_line_color=None, major_tick_in=16, minor_tick_in=6)
    right = LogAxis(ticker=yt, **right_common, **hide)
    p.add_layout(below, "below")
    p.add_layout(above, "above")
    p.add_layout(left, "left")
    p.add_layout(right, "right")


def make(height, top, frame_h, bottom, ymin, ymax):
    p = figure(width=1497 - STRIP_W, height=height, frame_width=1375, frame_height=frame_h,
               min_border_left=122 - STRIP_W, min_border_right=0, min_border_top=top, min_border_bottom=bottom,
               x_range=Range1d(800, 1497.38), y_range=Range1d(ymin, ymax), y_axis_type=None,
               x_axis_type=None, toolbar_location=None, output_backend="svg")
    p.y_scale = LogScale()
    return p


p1 = make(348, 9, 329, 10, 0.001, 1.77)
p2 = make(349, 11, 328, 10, 0.001, 1.259)
p3 = make(421, 10, 329, 82, 0.248, 7.96)

style_panel(p1, False, decade_major, decade_minor)
style_panel(p2, False, decade_major, decade_minor)
style_panel(p3, True, [1], harvey_minor)

for p, low_e, low_top, data, model in (
    (p1, plompen_low_E, plompen_low_top, plompen_data, plompen_model),
    (p2, perey_low_E, perey_low_top, perey_data, perey_model),
):
    p.segment(low_e, [0.001] * len(low_e), low_e, [10.0 ** v for v in low_top], line_color=GREEN, line_width=3)
    e, s = unzip(data)
    p.scatter(e, s, marker="cross", size=20, line_color=GREEN, line_width=3.5)
    e, s = unzip(model)
    p.line(e, s, line_color=RED, line_width=4, line_join="round")

harvey_rows = [(e, v) for e, logs in harvey_data for v in logs]
e, s = unzip(harvey_rows)
p3.scatter(e, s, marker="cross", size=20, line_color=GREEN, line_width=4)
e, s = unzip(harvey_model)
p3.line(e, s, line_color=RED, line_width=4, line_join="round")

name_style = dict(text_color=RED, text_font=SERIF, text_font_size="42px", text_baseline="bottom", text_align="left",
                  text_outline_color=RED)
p1.add_layout(Label(x=1100, y=10 ** -2.23, text=panel_names[0], **name_style))
p2.add_layout(Label(x=1100, y=10 ** -2.205, text=panel_names[1], **name_style))
p3.add_layout(Label(x=1100, y=0.315, text=panel_names[2], **name_style))

strip = figure(width=STRIP_W, height=1118, min_border=0, x_range=Range1d(0, 1), y_range=Range1d(0, 1),
               x_axis_type=None, y_axis_type=None, toolbar_location=None, output_backend="svg")
strip.grid.visible = False
strip.outline_line_color = None


def rot(sx, sy, text, size):
    strip.add_layout(Label(x=sx, y=sy, x_units="screen", y_units="screen", text=text, angle=math.pi / 2,
                           text_color=RED, text_font=SERIF, text_font_style="bold", text_font_size=size,
                           text_baseline="bottom", text_align="left"))


rot(38, 886, "\u03c3", "31px")
rot(46, 910, "(n,n') (b)", "29px")
rot(38, 538, "\u03c3", "31px")
rot(46, 560, "(n,n') (b)", "29px")
rot(38, 216, "\u03c3", "31px")
rot(46, 236, "t", "29px")
rot(46, 261, "(b)", "29px")

layout = row(strip, column(p1, p2, p3, spacing=0), spacing=0)
open("out.html", "w").write(file_html(layout, INLINE))
